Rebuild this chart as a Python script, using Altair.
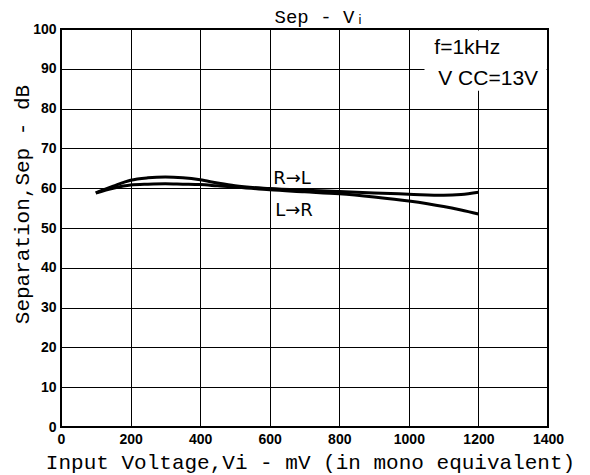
import altair as alt
import pandas as pd

# ---- data ----
x_mv = [100, 150, 200, 250, 300, 350, 400, 450, 500, 600, 700, 800, 900, 1000, 1100, 1150, 1200]
sep_rl = [58.8, 60.5, 62.0, 62.6, 62.8, 62.6, 62.1, 61.3, 60.6, 59.9, 59.5, 59.2, 58.8, 58.5, 58.2, 58.4, 59.0]
sep_lr = [58.8, 60.0, 60.8, 61.0, 61.1, 61.0, 60.9, 60.6, 60.3, 59.6, 59.1, 58.6, 57.8, 56.8, 55.4, 54.5, 53.5]

x_ticks = [0, 200, 400, 600, 800, 1000, 1200, 1400]
y_ticks = [0, 10, 20, 30, 40, 50, 60, 70, 80, 90, 100]

curve_labels = ["R\u2192L", "L\u2192R"]
curve_label_x = [664, 670]
curve_label_y = [62.3, 54.3]

cond_labels = ["f=1kHz", "V CC=13V"]
cond_x = [1168, 1228]
cond_y = [95.3, 87.5]

title_text = ["Sep - V\u1d62"]
title_x = [745]
title_y = [102.9]

box_x = [1045, 1396]
box_y = [84.5, 99.6]

X_TITLE = "Input Voltage,Vi - mV (in mono equivalent)"
Y_TITLE = "Separation,Sep - dB"

rows = []
for name, ys in (("R\u2192L", sep_rl), ("L\u2192R", sep_lr)):
    for xv, yv in zip(x_mv, ys):
        rows.append({"mv": xv, "sep": yv, "dir": name})
df = pd.DataFrame(rows)

xscale = alt.Scale(domain=[0, 1400], nice=False, zero=False)
yscale = alt.Scale(domain=[0, 100], nice=False, zero=False)

xaxis = alt.Axis(values=x_ticks, format="d", titleX=249, titleY=35, titleBaseline="middle",
                 titleAlign="center", labelFlush=False)
yaxis = alt.Axis(values=y_ticks, format="d", titleX=-39, titleY=175, titleBaseline="middle",
                 titleAlign="center", titleAngle=-90, labelFlush=False)


def xe(field="mv"):
    return alt.X(f"{field}:Q", scale=xscale, axis=xaxis, title=X_TITLE)


def ye(field="sep"):
    return alt.Y(f"{field}:Q", scale=yscale, axis=yaxis, title=Y_TITLE)


box_df = pd.DataFrame({"mv": [box_x[0]], "mv2": [box_x[1]], "sep": [box_y[0]], "sep2": [box_y[1]]})
box = alt.Chart(box_df).mark_rect(color="white").encode(
    x=xe(), x2="mv2:Q", y=ye(), y2="sep2:Q"
)

lines = alt.Chart(df).mark_line(color="black", strokeWidth=3, interpolate="monotone").encode(
    x=xe(), y=ye(), detail="dir:N"
)

lab_df = pd.DataFrame({"mv": curve_label_x, "sep": curve_label_y, "label": curve_labels})
labels = alt.Chart(lab_df).mark_text(font="DejaVu Sans", fontSize=18, color="black").encode(
    x=xe(), y=ye(), text="label:N"
)

cond_df = pd.DataFrame({"mv": cond_x, "sep": cond_y, "label": cond_labels})
conds = alt.Chart(cond_df).mark_text(font="Liberation Sans", fontSize=21, color="black").encode(
    x=xe(), y=ye(), text="label:N"
)

ttl_df = pd.DataFrame({"mv": title_x, "sep": title_y, "label": title_text})
ttl = alt.Chart(ttl_df).mark_text(font="Liberation Mono", fontSize=19, color="black").encode(
    x=xe(), y=ye(), text="label:N"
)

chart = alt.layer(box, lines, labels, conds, ttl).properties(
    width=487,
    height=398,
    padding={"left": 53, "top": 21, "right": 28, "bottom": 48},
    autosize=alt.AutoSizeParams(type="none"),
).configure_view(
    stroke="black", strokeWidth=2
).configure_axis(
    grid=True, gridColor="black", gridWidth=1, gridOpacity=1,
    domain=False, ticks=False,
    labelFont="Liberation Sans", labelFontWeight="bold", labelFontSize=14,
    labelColor="black", labelPadding=5,
    titleFont="Liberation Mono", titleFontSize=21, titleFontWeight="normal",
    titleColor="black",
)

chart.save("out.html", embed_options={"renderer": "svg", "actions": False})
